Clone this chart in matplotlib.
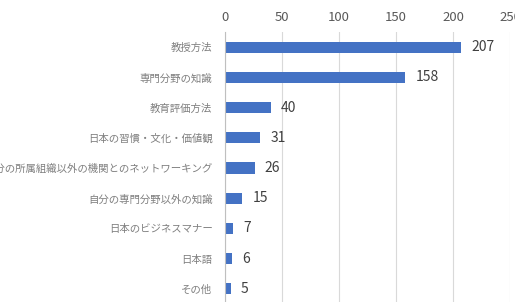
import matplotlib.pyplot as plt

plt.rcParams['font.family'] = ['Noto Sans CJK JP', 'DejaVu Sans']

# Data
categories = ["教授方法", "専門分野の知識", "教育評価方法", "日本の習慣・文化・価値観",
              "自分の所属組織以外の機関とのネットワーキング", "自分の専門分野以外の知識",
              "日本のビジネスマナー", "日本語", "その他"]
counts = [207, 158, 40, 31, 26, 15, 7, 6, 5]
xticks = [0, 50, 100, 150, 200, 250]

fig = plt.figure(figsize=(5.15, 3.02), dpi=100)
ax = fig.add_axes([225 / 515, -2 / 302, 285 / 515, 272 / 302])

pos = list(range(len(categories)))
ax.barh(pos, counts, height=0.37, color="#4472C4", zorder=3)

for y, v in zip(pos, counts):
    ax.text(v + 9, y, str(v), va="center", ha="left", fontsize=10, color="#404040")

ax.set_xlim(0, 250)
ax.set_ylim(len(categories) - 0.5, -0.5)
ax.set_xticks(xticks)
ax.set_yticks(pos)
ax.set_yticklabels(categories, fontsize=7.5, color="#7f7f7f")
ax.xaxis.tick_top()
ax.tick_params(axis="x", length=0, labelsize=9.5, labelcolor="#595959", pad=6)
ax.tick_params(axis="y", length=0, pad=9)
ax.grid(axis="x", color="#d9d9d9", linewidth=0.8, zorder=0)
for s in ["top", "right", "bottom"]:
    ax.spines[s].set_visible(False)
ax.spines["left"].set_color("#bfbfbf")
ax.spines["left"].set_zorder(4)

fig.savefig("out.png", dpi=100)
